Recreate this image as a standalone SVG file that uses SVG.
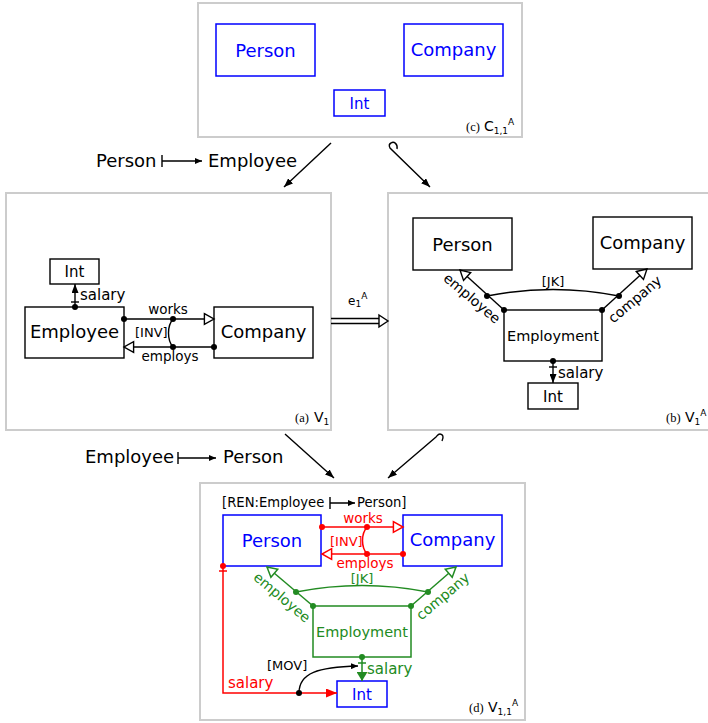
<svg xmlns="http://www.w3.org/2000/svg" width="708" height="723" viewBox="0 0 708 723">
<style>
text{font-family:"DejaVu Sans",Verdana,sans-serif}
.frame{fill:#fff;stroke:#cccccc;stroke-width:2}
.box{fill:#fff;stroke:#000;stroke-width:1.4}
.bbox{fill:#fff;stroke:#0000ff;stroke-width:1.5}
.gbox{fill:#fff;stroke:#228b22;stroke-width:1.5}
.ln{fill:none;stroke:#000;stroke-width:1.4}
.rl{fill:none;stroke:#ff0000;stroke-width:1.5}
.gl{fill:none;stroke:#228b22;stroke-width:1.5}
.big{font-size:18px}
.mid{font-size:15px}
.sm{font-size:13.5px}
.xs{font-size:13px}
.cap{font-family:"Liberation Serif",serif;font-size:12.5px}
.blue{fill:#0000ff}
.red{fill:#ff0000}
.green{fill:#228b22}
</style>
<defs>
<marker id="hk" markerUnits="userSpaceOnUse" viewBox="0 0 11 12" refX="10.3" refY="6" markerWidth="11" markerHeight="12" orient="auto" overflow="visible"><path d="M0.7,0.7 L10.3,6 L0.7,11.3 z" fill="#fff" stroke="#000" stroke-width="1.4"/></marker>
<marker id="hr" markerUnits="userSpaceOnUse" viewBox="0 0 11 12" refX="10.3" refY="6" markerWidth="11" markerHeight="12" orient="auto" overflow="visible"><path d="M0.7,0.7 L10.3,6 L0.7,11.3 z" fill="#fff" stroke="#ff0000" stroke-width="1.5"/></marker>
<marker id="hg" markerUnits="userSpaceOnUse" viewBox="0 0 11 12" refX="10.3" refY="6" markerWidth="11" markerHeight="12" orient="auto" overflow="visible"><path d="M0.7,0.7 L10.3,6 L0.7,11.3 z" fill="#fff" stroke="#228b22" stroke-width="1.5"/></marker>
<marker id="fk" markerUnits="userSpaceOnUse" viewBox="0 0 9 7" refX="9" refY="3.5" markerWidth="9" markerHeight="7" orient="auto"><path d="M0,0 L9,3.5 L0,7 z" fill="#000"/></marker>
<marker id="fr" markerUnits="userSpaceOnUse" viewBox="0 0 11 9" refX="11" refY="4.5" markerWidth="11" markerHeight="9" orient="auto"><path d="M0,0 L11,4.5 L0,9 z" fill="#ff0000"/></marker>
<marker id="fg" markerUnits="userSpaceOnUse" viewBox="0 0 9 11" refX="9" refY="5.5" markerWidth="9" markerHeight="11" orient="auto"><path d="M0,0 L9,5.5 L0,11 z" fill="#228b22"/></marker>
<marker id="fks" markerUnits="userSpaceOnUse" viewBox="0 0 7 6" refX="7" refY="3" markerWidth="7" markerHeight="6" orient="auto"><path d="M0,0 L7,3 L0,6 z" fill="#000"/></marker>
</defs>

<!-- panel frames -->
<g id="panel-c"><rect class="frame" x="198" y="3" width="324" height="134"/>
<text class="cap" x="466" y="131">(c)</text><text x="484" y="131" font-size="14">C<tspan font-size="9" dy="3">1,1</tspan><tspan font-size="9" dy="-9">A</tspan></text></g>
<g id="panel-a"><rect class="frame" x="6" y="193" width="325" height="237"/>
<text class="cap" x="295" y="422">(a)</text><text x="314" y="422" font-size="14">V<tspan font-size="9" dy="3">1</tspan></text></g>
<g id="panel-b"><rect class="frame" x="388" y="193" width="330" height="237"/>
<text class="cap" x="666" y="422">(b)</text><text x="685" y="422" font-size="14">V<tspan font-size="9" dy="3">1</tspan><tspan font-size="9" dy="-9">A</tspan></text></g>
<g id="panel-d"><rect class="frame" x="200" y="483" width="325" height="237"/>
<text class="cap" x="469" y="712">(d)</text><text x="488" y="712" font-size="14">V<tspan font-size="9" dy="3">1,1</tspan><tspan font-size="9" dy="-9">A</tspan></text></g>

<!-- panel c nodes -->
<g id="c-person"><rect class="bbox" x="216" y="24" width="99" height="52"/><text class="big blue" x="265.5" y="57" text-anchor="middle">Person</text></g>
<g id="c-company"><rect class="bbox" x="404" y="24" width="99" height="52"/><text class="big blue" x="453.5" y="56" text-anchor="middle">Company</text></g>
<g id="c-int"><rect class="bbox" x="334" y="90" width="51" height="26"/><text class="mid blue" x="359.5" y="109" text-anchor="middle">Int</text></g>

<!-- panel a nodes -->
<g id="a-int"><rect class="box" x="50" y="259" width="49" height="25"/><text class="mid" x="74.5" y="277" text-anchor="middle">Int</text></g>
<g id="a-employee"><rect class="box" x="25" y="307" width="99" height="51"/><text class="big" x="74.5" y="338" text-anchor="middle">Employee</text></g>
<g id="a-company"><rect class="box" x="214" y="307" width="99" height="51"/><text class="big" x="263.5" y="338" text-anchor="middle">Company</text></g>

<!-- panel b nodes -->
<g id="b-person"><rect class="box" x="413" y="218" width="99" height="52"/><text class="big" x="462.5" y="251" text-anchor="middle">Person</text></g>
<g id="b-company"><rect class="box" x="593" y="217" width="99" height="52"/><text class="big" x="642.5" y="249" text-anchor="middle">Company</text></g>
<g id="b-employment"><rect class="box" x="504" y="310" width="98" height="51"/><text x="553" y="341" font-size="14.5" text-anchor="middle">Employment</text></g>
<g id="b-int"><rect class="box" x="528" y="383" width="50" height="26"/><text class="mid" x="553" y="402" text-anchor="middle">Int</text></g>

<!-- panel d nodes -->
<g id="d-person"><rect class="bbox" x="223" y="515" width="98" height="51"/><text class="big blue" x="272" y="547" text-anchor="middle">Person</text></g>
<g id="d-company"><rect class="bbox" x="403" y="515" width="99" height="51"/><text class="big blue" x="452.5" y="546" text-anchor="middle">Company</text></g>
<g id="d-employment"><rect class="gbox" x="313" y="606" width="98" height="51"/><text class="green" x="362" y="637" font-size="14.5" text-anchor="middle">Employment</text></g>
<g id="d-int"><rect class="bbox" x="337" y="681" width="50" height="26"/><text class="mid blue" x="362" y="700" text-anchor="middle">Int</text></g>

<g id="connectors">
<!-- between panels -->
<path class="ln" d="M331,143 L284,187" marker-end="url(#fk)"/>
<text class="big" x="96" y="167">Person</text>
<path class="ln" d="M162,155 V167 M162,161 H202" marker-end="url(#fks)"/>
<text class="big" x="208" y="167">Employee</text>
<path class="ln" d="M397,149 C398,144 394,141 391,143 C389,144 389,146 390,148 L430,187" marker-end="url(#fk)"/>
<path class="ln" d="M285,434 L334,478" marker-end="url(#fk)"/>
<text class="big" x="85" y="463">Employee</text>
<path class="ln" d="M178,452 V464 M178,458 H216" marker-end="url(#fks)"/>
<text class="big" x="223" y="463">Person</text>
<path class="ln" d="M442,441 C444,437 443,434 440,434 C438,434 437,436 436,437 L388,478" marker-end="url(#fk)"/>
<!-- e1A -->
<path class="ln" d="M331,318.5 H381 M331,323.5 H381"/>
<path d="M379,315 L388,321 L379,327 z" fill="#fff" stroke="#000" stroke-width="1.4"/>
<text x="348" y="305" font-size="12">e<tspan font-size="9" dy="2">1</tspan><tspan font-size="9" dy="-8">A</tspan></text>

<!-- panel a -->
<path class="ln" d="M75,307 V284" marker-end="url(#fk)"/>
<path class="ln" d="M71,302 H79"/>
<circle cx="75" cy="307" r="3"/>
<text class="mid" x="80" y="300">salary</text>
<path class="ln" d="M124,319 H214" marker-end="url(#hk)"/>
<path class="ln" d="M214,347 H124" marker-end="url(#hk)"/>
<path class="ln" d="M173,319 C167,326 167,340 173,347"/>
<circle cx="124" cy="319" r="3"/><circle cx="173" cy="319" r="3"/><circle cx="173" cy="347" r="3"/><circle cx="214" cy="347" r="3"/>
<text class="sm" x="168" y="314" text-anchor="middle">works</text>
<text class="xs" x="135" y="337">[INV]</text>
<text class="sm" x="170" y="361" text-anchor="middle">employs</text>

<!-- panel b -->
<path class="ln" d="M504,310 L460,270" marker-end="url(#hk)"/>
<path class="ln" d="M602,310 L647,269" marker-end="url(#hk)"/>
<path class="ln" d="M487,296 Q553,283 619,296"/>
<circle cx="504" cy="310" r="3"/><circle cx="487" cy="296" r="3"/><circle cx="602" cy="310" r="3"/><circle cx="619" cy="296" r="3"/>
<text class="xs" x="553" y="286" text-anchor="middle">[JK]</text>
<text x="469" y="302" font-size="14" text-anchor="middle" transform="rotate(40 469 302)">employee</text>
<text x="638" y="303" font-size="14" text-anchor="middle" transform="rotate(-40 638 303)">company</text>
<path class="ln" d="M553,361 V383" marker-end="url(#fk)"/>
<path class="ln" d="M549,367 H557"/>
<circle cx="553" cy="361" r="3"/>
<text class="mid" x="558" y="378">salary</text>

<!-- panel d -->
<text x="222" y="507" font-size="13.2">[REN:Employee</text>
<path class="ln" d="M330,497 V509 M330,503 H355" marker-end="url(#fks)"/>
<text x="357" y="507" font-size="13.2">Person]</text>
<path class="rl" d="M322,527 H403" marker-end="url(#hr)"/>
<path class="rl" d="M403,554 H322" marker-end="url(#hr)"/>
<path class="rl" d="M367,527 C361,534 361,547 367,554"/>
<g fill="#ff0000"><circle cx="322" cy="527" r="3"/><circle cx="367" cy="527" r="3"/><circle cx="367" cy="554" r="3"/><circle cx="403" cy="554" r="3"/><circle cx="223" cy="566" r="3"/></g>
<text class="sm red" x="363" y="523" text-anchor="middle">works</text>
<text class="xs red" x="330" y="546">[INV]</text>
<text class="sm red" x="365" y="568" text-anchor="middle">employs</text>
<path class="rl" d="M223,566 V693 H337" marker-end="url(#fr)"/>
<path class="rl" d="M219,571 H227"/>
<text class="mid red" x="228" y="688">salary</text>
<path class="gl" d="M313,606 L267,567" marker-end="url(#hg)"/>
<path class="gl" d="M411,606 L456,567" marker-end="url(#hg)"/>
<path class="gl" d="M296,592 Q362,579 428,592"/>
<g fill="#228b22"><circle cx="313" cy="606" r="3"/><circle cx="296" cy="592" r="3"/><circle cx="411" cy="606" r="3"/><circle cx="428" cy="592" r="3"/><circle cx="362" cy="657" r="3"/></g>
<text class="xs green" x="362" y="583" text-anchor="middle">[JK]</text>
<text class="green" x="279" y="601" font-size="14" text-anchor="middle" transform="rotate(40 279 601)">employee</text>
<text class="green" x="446" y="600" font-size="14" text-anchor="middle" transform="rotate(-40 446 600)">company</text>
<path class="gl" d="M362,657 V681" marker-end="url(#fg)"/>
<path class="gl" d="M358,663 H366"/>
<text class="mid green" x="367" y="674">salary</text>
<text class="xs" x="267" y="670">[MOV]</text>
<path class="ln" d="M299,693 C299,673 318,667 358,666" marker-end="url(#fks)"/>
<circle cx="299" cy="693" r="3"/>
</g>
</svg>
